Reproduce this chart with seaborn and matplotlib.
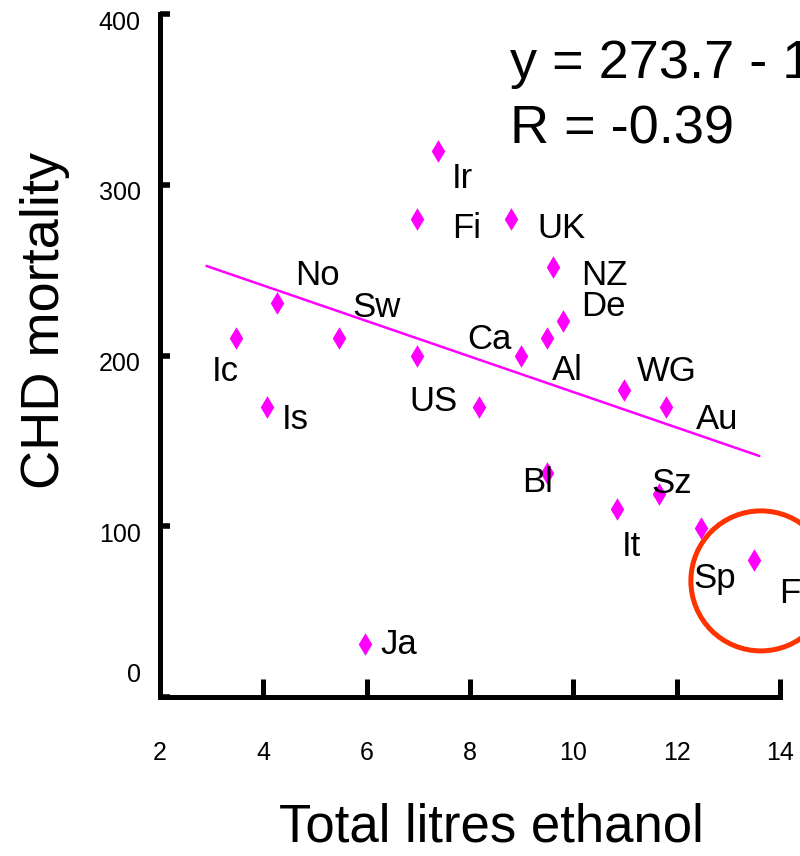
import numpy as np
import pandas as pd
import matplotlib
matplotlib.use("Agg")
import matplotlib.pyplot as plt
import seaborn as sns
from matplotlib.patches import Ellipse
from matplotlib.transforms import ScaledTranslation

# countries (abbreviated), one point left unlabelled as in the original
countries = ["Ic", "No", "Is", "Sw", "", "Ja", "Fi", "Ir", "US", "UK", "NZ",
             "De", "Al", "Ca", "Bl", "WG", "Au", "Sz", "It", "Sp", "F"]
ethanol = [3.47, 4.26, 4.07, 5.46, 6.97, 5.97, 6.97, 7.38, 8.17, 8.79, 9.61,
           9.80, 9.49, 8.99, 9.49, 10.98, 11.79, 11.66, 10.84, 12.47, 13.50]
chd_mortality = [210, 231, 170, 210, 200, 31, 280, 320, 170, 280, 252,
                 220, 210, 200, 131, 180, 170, 119, 110, 99, 80]

# trend line as drawn on the slide
trend_intercept = 282.6
trend_slope = -10.4
trend_span = [2.9, 13.6]

x_ticks = [2, 4, 6, 8, 10, 12, 14]
y_ticks = [0, 100, 200, 300, 400]

df = pd.DataFrame({"country": countries, "ethanol": ethanol, "chd": chd_mortality})
trend = pd.DataFrame({"x": trend_span})
trend["y"] = trend_intercept + trend_slope * trend["x"]

sns.set_style("white")
plt.rcParams["font.family"] = ["Liberation Sans", "DejaVu Sans"]
plt.rcParams["text.color"] = "black"
plt.rcParams["axes.labelcolor"] = "black"

fig = plt.figure(figsize=(8, 8.56), dpi=100)
ax = fig.add_axes([160 / 800, 1 - 697 / 856, 620 / 800, 683 / 856])

sns.lineplot(data=trend, x="x", y="y", color="#ff00ff", linewidth=1.8, ax=ax)
sns.scatterplot(data=df, x="ethanol", y="chd", marker="d", s=132,
                color="#ff00ff", linewidth=0, ax=ax, zorder=3)

# label offsets in pixels (dx right, dy down to baseline)
offsets = {"Ic": (-11, 43), "No": (41, -18), "Is": (28, 22), "Sw": (38, -21),
           "US": (-45, 4), "Ja": (34, 10), "Fi": (50, 19), "Ir": (24, 37),
           "UK": (51, 19), "NZ": (51, 18), "De": (40, -5), "Ca": (-32, -7),
           "Al": (20, 42), "Bl": (-9, 19), "WG": (43, -9), "Au": (51, 22),
           "Sz": (13, -1), "It": (15, 47), "Sp": (14, 60), "F": (36, 43)}
for _, r in df.iterrows():
    if not r["country"]:
        continue
    dx, dy = offsets[r["country"]]
    ax.annotate(r["country"], (r["ethanol"], r["chd"]), xytext=(dx, -dy),
                textcoords="offset pixels", ha="center", va="baseline",
                fontsize=25, color="black", zorder=4, annotation_clip=False)

ax.add_patch(Ellipse((13.63, 68), width=2.71, height=82, fill=False,
                     edgecolor="#ff3300", linewidth=3.6, clip_on=False, zorder=2))

ax.set_xlim(2, 14)
ax.set_ylim(0, 400)
ax.set_xticks(x_ticks)
ax.set_yticks(y_ticks)
ax.set_xticklabels([str(t) for t in x_ticks])
ax.set_yticklabels([str(t) for t in y_ticks])
sns.despine(ax=ax)
for side in ["left", "bottom"]:
    ax.spines[side].set_linewidth(3.6)
    ax.spines[side].set_color("black")
ax.tick_params(axis="y", direction="in", length=7, width=4, pad=14,
               labelsize=18, colors="black", left=True)
ax.tick_params(axis="x", direction="in", length=13, width=3.6, pad=32,
               labelsize=18, colors="black", bottom=True)

# the slide's y labels sit a little below their ticks, the 0 well above
for tick in ax.yaxis.get_major_ticks():
    shift = 25 if tick.label1.get_text() == "0" else -6
    tick.label1.set_transform(tick.label1.get_transform() +
                              ScaledTranslation(0, shift / 100, fig.dpi_scale_trans))

ax.set_xlabel("Total litres ethanol", fontsize=38)
ax.set_ylabel("CHD mortality", fontsize=39)
ax.xaxis.set_label_coords(0.535, -0.155)
ax.yaxis.set_label_coords(-0.145, 0.552)

fig.text(510 / 800, 1 - 78 / 856, "y = 273.7 - 1", fontsize=39, ha="left", va="baseline")
fig.text(510 / 800, 1 - 143 / 856, "R = -0.39", fontsize=39, ha="left", va="baseline")

fig.savefig("out.png", dpi=100)
